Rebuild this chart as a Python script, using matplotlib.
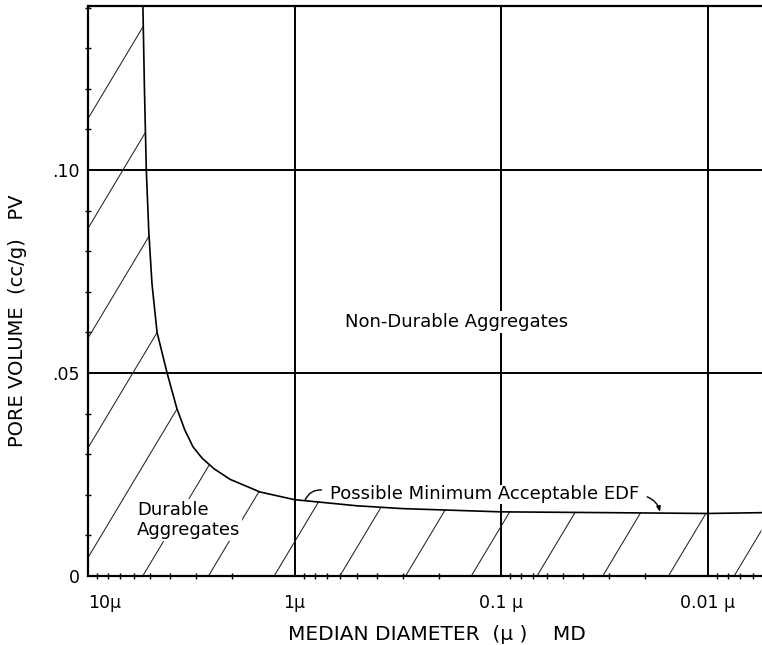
import matplotlib
matplotlib.use("Agg")
import matplotlib.pyplot as plt
import numpy as np
from matplotlib.patches import Polygon
from matplotlib.ticker import FixedLocator, LogLocator, MultipleLocator, NullFormatter

# boundary curve: median diameter (microns) vs pore volume (cc/g)
md_um = [5.42, 5.33, 5.22, 5.08, 4.90, 4.63, 4.14, 3.71, 3.40, 3.10, 2.80, 2.45,
         2.05, 1.47, 1.0, 0.5, 0.3, 0.1, 0.03, 0.01, 0.0055]
pv = [0.140, 0.120, 0.100, 0.085, 0.072, 0.060, 0.050, 0.0412, 0.0360, 0.0318,
      0.0290, 0.0264, 0.0238, 0.0207, 0.0188, 0.0173, 0.0166, 0.0158, 0.0156,
      0.0154, 0.0156]

x_ticks = [10, 1, 0.1, 0.01]
x_labels = ["10\u03bc", "1\u03bc", "0.1 \u03bc", "0.01 \u03bc"]
y_ticks = [0, 0.05, 0.10]
y_labels = ["0", ".05", ".10"]

XMIN, XMAX = 10, 0.00545
YMIN, YMAX = 0, 0.1404

plt.rcParams['font.family'] = ['DejaVu Sans']

fig = plt.figure(figsize=(7.62, 6.45), dpi=100)
ax = fig.add_axes([88/762, 69/645, 674/762, 570/645])

ax.set_xscale("log")
ax.set_xlim(XMIN, XMAX)
ax.set_ylim(YMIN, YMAX)

# boundary curve (on top of the label boxes)
ax.plot(md_um, pv, color="black", lw=1.2, zorder=5, solid_joinstyle="round")

# hatched "durable" region: below / left of the curve
verts = [(XMIN, YMIN), (XMIN, YMAX)] + list(zip(md_um, pv)) + [(XMAX, YMIN)]
region = Polygon(verts, closed=True, facecolor="none", edgecolor="none",
                 transform=ax.transData)
ax.add_patch(region)

slope = 1.975      # in axes fraction units
step = 0.0975
for k in range(-7, 12):
    x0 = -0.0163 + k*step
    ln, = ax.plot([x0, x0 + 1/slope], [0, 1], transform=ax.transAxes,
                  color="#222222", lw=0.75, zorder=2)
    ln.set_clip_path(region)

# grid + ticks
ax.xaxis.set_major_locator(FixedLocator(x_ticks))
ax.set_xticklabels(x_labels)
ax.xaxis.set_minor_locator(LogLocator(base=10, subs=np.arange(2, 10)))
ax.xaxis.set_minor_formatter(NullFormatter())
ax.set_yticks(y_ticks)
ax.set_yticklabels(y_labels)
ax.yaxis.set_minor_locator(MultipleLocator(0.01))

ax.grid(True, which="major", color="black", lw=1.4)
ax.tick_params(which="major", length=0, labelsize=12.5)
ax.tick_params(axis="x", which="major", pad=13)
ax.tick_params(axis="y", which="major", pad=6)
ax.tick_params(which="minor", direction="inout", length=4, width=1.0)
ax.get_xticklabels()[0].set_ha("left")

for s in ["left", "bottom", "top"]:
    ax.spines[s].set_linewidth(1.6)
ax.spines["right"].set_visible(False)

ax.set_xlabel("MEDIAN DIAMETER  (\u03bc )    MD", fontsize=14.5)
ax.xaxis.set_label_coords(0.518, -0.086)
ax.set_ylabel("PORE VOLUME  (cc/g)   PV", fontsize=14)
ax.yaxis.set_label_coords(-0.09, 0.447)

box = dict(facecolor="white", edgecolor="none", pad=1.5)
ax.text(0.165, 0.0626, "Non-Durable Aggregates", fontsize=13, ha="center",
        va="center", bbox=box, zorder=4)
ax.text(5.8, 0.0138, "Durable\nAggregates", fontsize=13, ha="left",
        va="center", linespacing=1.1, bbox=box, zorder=4)
ax.text(0.1195, 0.0201, "Possible Minimum Acceptable EDF", fontsize=13,
        ha="center", va="center",
        bbox=dict(facecolor="white", edgecolor="none", pad=0.3), zorder=4)

# little curls from the label down to the curve
ax.annotate("", xy=(0.89, 0.0186), xytext=(0.74, 0.0212),
            arrowprops=dict(arrowstyle="-", lw=1.0, color="black",
                            connectionstyle="arc3,rad=0.35",
                            shrinkA=0, shrinkB=0), zorder=5)
ax.annotate("", xy=(0.017, 0.0158), xytext=(0.0196, 0.0195),
            arrowprops=dict(arrowstyle="-|>,head_length=0.3,head_width=0.12",
                            lw=1.0, color="black",
                            connectionstyle="arc3,rad=-0.25",
                            shrinkA=0, shrinkB=0), zorder=5)

fig.savefig("out.png", dpi=100)
